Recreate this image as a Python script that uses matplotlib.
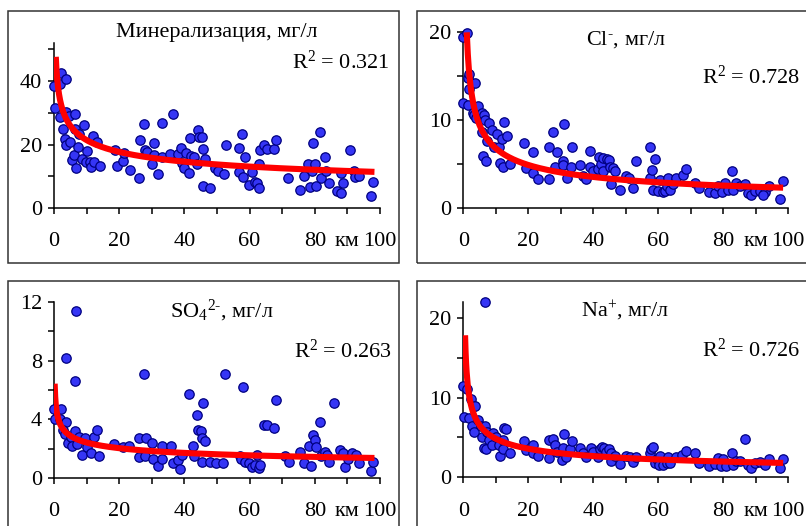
import numpy as np
import matplotlib
matplotlib.use('Agg')
import matplotlib.pyplot as plt
from matplotlib.patches import Rectangle

plt.rcParams['font.family'] = ['Liberation Serif', 'DejaVu Serif']
plt.rcParams['mathtext.fontset'] = 'custom'
plt.rcParams['mathtext.rm'] = 'Liberation Serif'
plt.rcParams['mathtext.it'] = 'Liberation Serif:italic'
plt.rcParams['mathtext.bf'] = 'Liberation Serif:bold'

# Минерализация, мг/л
min_km = [0, 0.2, 1.7, 2.1, 3.6, 1.9, 2.7, 3.4, 3.7, 3.8, 4.6, 5.0, 5.6, 6.0, 6.3, 6.3, 6.8,
          7.4, 7.8, 8.5, 9.1, 9.7, 10.1, 10.9, 11.2, 11.9, 12.4, 13.1, 14.0, 18.8, 19.2, 21.3,
          21.6, 23.3, 26.2, 26.4, 27.5, 27.9, 28.6, 30.2, 30.7, 30.8, 31.9, 33.1, 33.1, 35.7,
          36.6, 37.9, 38.9, 39.2, 39.9, 40.4, 41.4, 41.6, 42.0, 43.0, 44.0, 44.3, 44.5, 45.3,
          45.7, 45.7, 46.3, 47.8, 49.4, 50.4, 52.1, 52.9, 56.7, 57.7, 56.9, 57.9, 58.6, 59.8,
          60.6, 61.8, 62.3, 62.8, 63.0, 63.3, 64.4, 65.4, 67.4, 68.1, 71.9, 75.6, 76.6, 77.9,
          78.6, 79.1, 79.3, 80.1, 80.4, 81.7, 82.0, 83.0, 83.5, 84.4, 86.8, 88.1, 88.8, 88.1,
          90.8, 91.9, 92.4, 93.6, 97.3, 98.0]
min_val = [38.4, 31.4, 39.1, 42.5, 40.8, 28.6, 24.9, 21.8, 30.4, 20.0, 29.1, 20.8, 15.1, 16.6,
           29.6, 24.9, 12.5, 19.2, 23.4, 15.3, 26.3, 14.5, 18.0, 14.5, 13.0, 22.8, 14.5, 20.8,
           13.2, 18.4, 13.2, 14.8, 17.3, 12.1, 9.3, 21.5, 26.5, 18.4, 17.7, 13.8, 20.5, 16.6,
           10.7, 26.7, 16.1, 17.1, 29.6, 16.9, 19.0, 14.2, 12.5, 17.3, 10.9, 22.0, 16.3, 16.1,
           14.0, 24.7, 22.3, 22.3, 18.5, 7.0, 15.3, 6.2, 12.5, 11.7, 10.7, 20.0, 19.0, 23.4,
           11.4, 9.9, 16.1, 7.3, 11.4, 8.3, 7.8, 6.2, 14.0, 18.2, 19.7, 18.7, 18.7, 21.5, 9.6,
           5.7, 10.1, 13.8, 6.7, 11.7, 20.5, 14.0, 7.0, 24.1, 9.6, 16.1, 11.7, 7.8, 5.5, 4.7,
           8.0, 11.1, 18.2, 11.7, 9.9, 10.1, 3.8, 8.3]

# Cl-, мг/л
cl_km = [0, 1.0, 0, 1.3, 1.8, 1.7, 1.5, 2.8, 3.6, 3.1, 3.7, 4.6, 5.6, 6.2, 5.8, 5.9, 6.8, 6.5,
         7.2, 8.0, 8.7, 9.4, 10.3, 10.8, 11.3, 12.0, 12.3, 12.6, 13.3, 14.2, 18.7, 19.2, 21.3,
         21.5, 23.1, 26.2, 26.5, 27.7, 28.2, 28.7, 30.6, 30.8, 31.1, 31.8, 33.1, 33.3, 35.9,
         36.9, 37.9, 38.9, 38.9, 40.0, 41.5, 41.8, 42.3, 43.1, 43.1, 44.1, 44.7, 45.1, 45.6,
         46.2, 46.7, 48.2, 50.1, 51.1, 52.3, 53.1, 57.4, 57.6, 58.2, 58.3, 59.0, 60.0, 60.5,
         61.5, 62.1, 62.6, 63.1, 63.6, 64.6, 65.6, 67.5, 68.7, 71.3, 72.6, 75.7, 77.4, 78.5,
         79.8, 80.5, 81.5, 82.6, 83.1, 83.9, 85.1, 86.7, 87.7, 88.7, 89.7, 91.3, 92.8, 94.2,
         97.4, 98.5, 92.3]
cl_val = [19.5, 19.9, 11.9, 14.8, 15.3, 13.5, 11.7, 10.8, 14.2, 10.6, 10.2, 11.6, 10.8, 10.6,
          8.6, 5.9, 5.3, 10.0, 7.6, 9.7, 8.9, 7.0, 8.4, 7.0, 5.1, 7.8, 4.7, 9.8, 8.2, 5.0, 7.4,
          4.5, 4.0, 6.4, 3.3, 3.3, 6.9, 8.6, 4.7, 6.4, 5.3, 4.9, 9.6, 3.4, 4.7, 6.9, 4.9, 3.6,
          3.3, 6.5, 4.7, 4.2, 4.4, 5.8, 5.0, 5.7, 4.2, 5.6, 5.5, 4.7, 2.7, 4.5, 4.2, 2.1, 3.6,
          3.4, 2.3, 5.4, 6.9, 3.4, 4.3, 2.1, 5.6, 1.9, 3.2, 1.8, 1.9, 2.5, 3.4, 2.1, 2.7, 3.4,
          3.8, 4.4, 2.8, 2.3, 1.8, 1.7, 2.5, 1.8, 2.8, 2.1, 4.2, 2.1, 2.8, 2.5, 2.7, 1.7, 1.5,
          1.9, 1.9, 1.8, 2.5, 1.0, 3.1, 1.5]

# SO4 2-, мг/л
so4_km = [0, 0.2, 2.2, 1.7, 3.8, 3.8, 2.7, 3.3, 4.3, 5.3, 5.6, 6.3, 6.8, 6.5, 7.0, 7.8, 8.7,
          9.4, 10.1, 11.4, 12.4, 13.1, 13.9, 18.5, 21.1, 23.1, 26.0, 26.2, 27.5, 28.2, 27.9,
          30.2, 30.5, 31.8, 33.0, 33.1, 35.8, 36.4, 37.9, 38.6, 39.4, 41.4, 42.5, 43.0, 44.0,
          44.2, 45.0, 45.7, 45.5, 46.3, 45.5, 47.8, 49.8, 51.8, 52.6, 57.2, 57.9, 57.5, 58.6,
          59.9, 60.6, 61.8, 62.3, 62.8, 63.3, 64.4, 65.4, 67.4, 68.1, 70.8, 72.2, 75.4, 76.6,
          78.1, 78.9, 79.3, 80.1, 80.3, 81.7, 82.0, 83.0, 83.7, 84.4, 86.0, 87.8, 88.6, 89.3,
          90.3, 91.5, 92.6, 93.6, 97.3, 98.0]
so4_val = [4.7, 4.0, 4.7, 4.0, 8.2, 3.8, 3.3, 3.0, 2.4, 2.8, 2.2, 6.6, 11.4, 3.2, 2.3, 2.8,
           1.6, 2.7, 2.1, 1.7, 2.8, 3.3, 1.5, 2.3, 2.1, 2.2, 1.4, 2.7, 7.1, 2.7, 1.5, 2.4, 1.3,
           0.8, 2.2, 1.3, 2.2, 1.0, 1.2, 0.6, 1.6, 5.7, 2.2, 1.5, 4.3, 3.3, 3.2, 5.1, 2.7, 2.5,
           1.1, 1.1, 1.0, 1.0, 7.1, 1.5, 6.2, 1.3, 1.1, 1.0, 0.75, 0.9, 1.6, 0.7, 0.9, 3.6, 3.6,
           3.4, 5.3, 1.5, 1.1, 1.8, 1.0, 2.2, 0.8, 2.9, 2.6, 2.1, 3.8, 1.5, 1.8, 1.6, 1.1, 5.1,
           1.9, 1.7, 0.75, 1.3, 1.7, 1.6, 1.0, 0.45, 1.1]

# Na+, мг/л
na_km = [0, 1.0, 0.3, 1.7, 2.3, 3.1, 3.6, 2.6, 3.3, 4.6, 5.3, 5.6, 6.2, 6.5, 6.5, 6.9, 7.2,
         8.0, 8.7, 9.2, 10.1, 10.8, 11.3, 12.1, 12.5, 13.1, 12.3, 14.2, 18.7, 19.3, 21.3, 21.5,
         23.1, 26.2, 26.5, 27.7, 28.2, 28.7, 30.3, 31.1, 30.8, 31.6, 32.8, 33.3, 35.9, 36.9,
         37.7, 39.2, 40.0, 41.5, 42.1, 42.8, 43.4, 43.9, 44.9, 45.6, 45.6, 46.7, 48.2, 50.1,
         51.3, 52.3, 53.3, 57.4, 57.9, 58.5, 59.0, 59.5, 60.3, 60.7, 61.5, 62.6, 63.1, 63.6,
         65.4, 67.2, 68.7, 71.3, 72.6, 75.7, 77.4, 78.5, 79.5, 80.0, 81.0, 82.6, 83.1, 83.9,
         85.1, 86.7, 87.7, 88.7, 89.7, 91.5, 92.8, 94.2, 97.4, 98.5]
na_val = [11.4, 11.1, 7.6, 7.5, 9.8, 8.9, 8.9, 6.4, 5.7, 7.2, 6.4, 5.1, 3.7, 22.0, 6.4, 3.5,
          5.7, 4.7, 4.1, 5.5, 5.1, 4.1, 2.7, 4.7, 6.2, 6.0, 3.5, 3.0, 4.5, 3.4, 4.1, 3.1, 2.7,
          2.4, 4.7, 4.8, 4.1, 3.2, 2.2, 5.4, 3.7, 2.6, 3.5, 4.5, 3.7, 3.0, 2.6, 3.7, 3.2, 2.6,
          3.5, 3.8, 3.7, 3.2, 3.5, 3.0, 2.1, 2.7, 1.7, 2.7, 2.6, 1.9, 2.5, 3.0, 3.5, 3.8, 1.8,
          2.3, 1.6, 2.7, 1.6, 1.8, 2.6, 1.8, 2.6, 2.8, 3.3, 3.0, 1.8, 1.4, 1.7, 2.4, 1.4, 2.3,
          1.4, 3.0, 1.6, 2.1, 2.1, 4.8, 1.6, 1.2, 1.8, 1.9, 1.6, 2.3, 1.2, 2.3]

# power trendlines y = a * x^b, drawn between first and last km
min_trend = (40.4, -0.276, 0.55, 98.3)
cl_trend = (20.0, -0.47, 1.0, 98.5)
so4_trend = (4.3, -0.25, 0.2, 98.3)
na_trend = (13.0, -0.43, 0.48, 98.5)

titles = ['Минерализация, мг/л', r'Cl$^{\text{-}}$, мг/л', r'SO$_4$$^{2\text{-}}$, мг/л',
          'Na$^{+}$, мг/л']
r2_labels = ['R$^2$ = 0.321', 'R$^2$ = 0.728', 'R$^2$ = 0.263', 'R$^2$ = 0.726']

W, H = 806, 526
fig = plt.figure(figsize=(W / 100, H / 100), dpi=100)


def fx(px):
    return px / W


def fy(py):
    return 1 - py / H


# panel frames
for (x0, y0, x1, y1) in [(8, 11, 399, 263), (416.5, 11, 812, 263),
                         (8, 281, 399, 532), (416.5, 281, 812, 532)]:
    fig.patches.append(Rectangle((fx(x0), fy(y1)), fx(x1 - x0), (y1 - y0) / H,
                                 transform=fig.transFigure, fill=False,
                                 edgecolor='#333333', linewidth=1.1))

panels = [
    # left, right, top, bottom pixels, ymax, label step, tick step
    (54, 380, 43, 208, 52, 20, 10, min_km, min_val, min_trend,
     (217, 33), (390, 62)),
    (463.5, 788, 32.3, 208, 20, 10, 5, cl_km, cl_val, cl_trend,
     (626, 40), (800, 77)),
    (54, 380, 302, 478, 12, 4, 2, so4_km, so4_val, so4_trend,
     (222, 311), (392, 351)),
    (463.5, 788, 302, 477.3, 22, 10, 5, na_km, na_val, na_trend,
     (625, 311), (800, 350)),
]

for i, (l, r, t, b, ymax, lstep, tstep, xs, ys, trend, tpos, rpos) in enumerate(panels):
    ax = fig.add_axes([fx(l), fy(b), fx(r - l), (b - t) / H])
    ax.patch.set_alpha(0)
    ax.scatter(xs, ys, s=46, color='#3535f5', edgecolors='#000080', linewidths=0.9,
               zorder=3, clip_on=False)
    a, p, xa, xb = trend
    xt = np.linspace(xa, xb, 600)
    ax.plot(xt, a * xt ** p, color='#ff0000', linewidth=4.4, zorder=4,
            solid_capstyle='butt')
    ax.set_xlim(0, 100)
    ax.set_ylim(0, ymax)
    xticks = np.arange(0, 101, 10)
    ax.set_xticks(xticks)
    ax.set_xticklabels(['0', '', '20', '', '40', '', '60', '', '80', 'км', '100'])
    yticks = np.arange(0, ymax + 0.01, tstep)
    ax.set_yticks(yticks)
    ax.set_yticklabels([f'{v:g}' if abs(v % lstep) < 1e-9 else '' for v in yticks])
    for s in ['top', 'right']:
        ax.spines[s].set_visible(False)
    for s in ['left', 'bottom']:
        ax.spines[s].set_linewidth(1.1)
        ax.spines[s].set_color('black')
    ax.tick_params(axis='both', direction='out', length=4.5, width=1.1, labelsize=16,
                   colors='black')
    ax.tick_params(axis='x', pad=13)
    ax.tick_params(axis='y', pad=4)
    fig.text(fx(tpos[0]), fy(tpos[1]), titles[i], ha='center', va='center', fontsize=16)
    fig.text(fx(rpos[0]), fy(rpos[1]), r2_labels[i], ha='right', va='center', fontsize=16)

fig.savefig('out.png', dpi=100)
